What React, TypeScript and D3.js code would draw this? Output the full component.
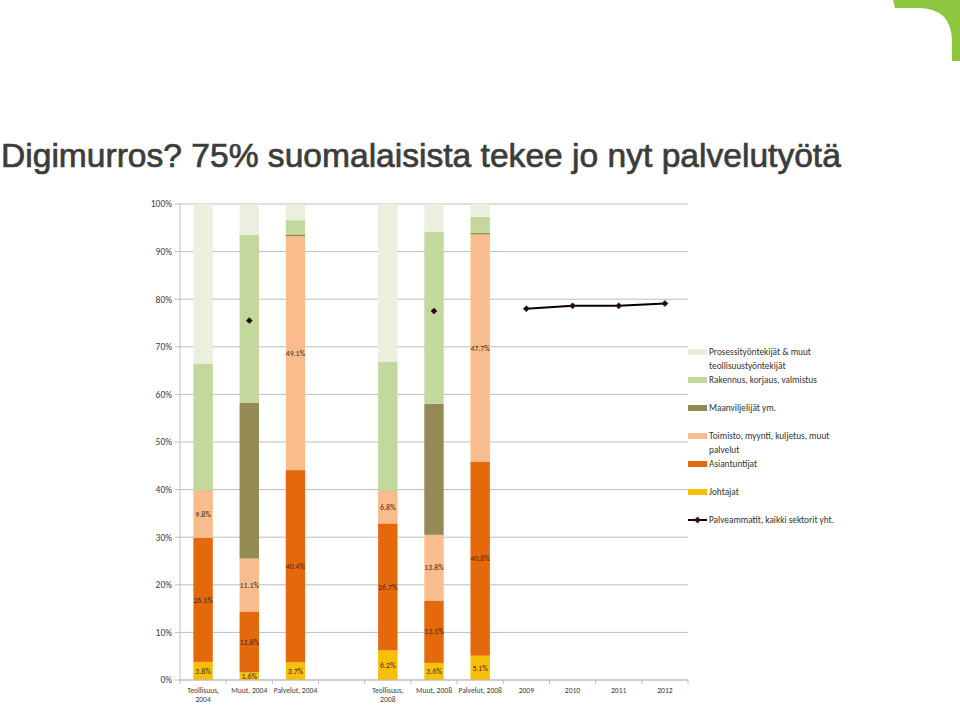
import React from 'react';
import * as d3 from 'd3';

const categories = ["Teollisuus, 2004", "Muut, 2004", "Palvelut, 2004", "", "Teollisuus, 2008", "Muut,  2008", "Palvelut, 2008", "2009", "2010", "2011", "2012"];
const categoryLabelLines = [["Teollisuus,", "2004"], ["Muut, 2004"], ["Palvelut, 2004"], [], ["Teollisuus,", "2008"], ["Muut,  2008"], ["Palvelut, 2008"], ["2009"], ["2010"], ["2011"], ["2012"]];

const johtajat = [3.8, 1.6, 3.7, 0, 6.2, 3.6, 5.1, 0, 0, 0, 0];
const asiantuntijat = [26.1, 12.8, 40.4, 0, 26.7, 13.1, 40.8, 0, 0, 0, 0];
const toimisto = [9.8, 11.1, 49.1, 0, 6.8, 13.8, 47.7, 0, 0, 0, 0];
const maanviljelijat = [0.1, 32.7, 0.4, 0, 0.1, 27.5, 0.3, 0, 0, 0, 0];
const rakennus = [26.7, 35.3, 3.0, 0, 27.1, 36.2, 3.4, 0, 0, 0, 0];
const prosessi = [33.5, 6.5, 3.4, 0, 33.1, 5.8, 2.7, 0, 0, 0, 0];
const palveammatit: (number | null)[] = [null, 75.5, null, null, null, 77.5, null, 78.0, 78.6, 78.6, 79.1];

const yTicks = [0, 10, 20, 30, 40, 50, 60, 70, 80, 90, 100];

const seriesKeys = ["johtajat", "asiantuntijat", "toimisto", "maanviljelijat", "rakennus", "prosessi"];
const seriesColors: Record<string, string> = {
  johtajat: "#f8bf0a",
  asiantuntijat: "#e3690c",
  toimisto: "#f9bc8c",
  maanviljelijat: "#948a54",
  rakennus: "#c4d79d",
  prosessi: "#ebf0de",
};
const labelledKeys = ["johtajat", "asiantuntijat", "toimisto"];

const legendItems = [
  { key: "prosessi", lines: ["Prosessityöntekijät & muut", "teollisuustyöntekijät"] },
  { key: "rakennus", lines: ["Rakennus, korjaus, valmistus"] },
  { key: "maanviljelijat", lines: ["Maanviljelijät ym."] },
  { key: "toimisto", lines: ["Toimisto, myynti, kuljetus, muut", "palvelut"] },
  { key: "asiantuntijat", lines: ["Asiantuntijat"] },
  { key: "johtajat", lines: ["Johtajat"] },
  { key: "line", lines: ["Palveammatit, kaikki sektorit yht."] },
];

const titleText = "Digimurros? 75% suomalaisista tekee jo nyt palvelutyötä";

const FONT = "Carlito, Lato, 'DejaVu Sans', sans-serif";

export default function App() {
  const W = 960, H = 705;
  const left = 180, right = 688, top = 204, bottom = 680;

  const keysIdx = categories.map((_, i) => String(i));
  const x = d3.scaleBand<string>().domain(keysIdx).range([left, right]).paddingInner(0.58).paddingOuter(0.29);
  const step = x.step();
  const y = d3.scaleLinear().domain([0, 100]).range([bottom, top]);

  const rows = categories.map((_, i) => ({
    johtajat: johtajat[i], asiantuntijat: asiantuntijat[i], toimisto: toimisto[i],
    maanviljelijat: maanviljelijat[i], rakennus: rakennus[i], prosessi: prosessi[i],
  }));
  const stacked = d3.stack<any>().keys(seriesKeys)(rows);

  const cx = (i: number) => (x(String(i)) as number) + x.bandwidth() / 2;

  const lineGen = d3.line<number | null>()
    .defined(d => d != null)
    .x((_, i) => cx(i))
    .y(d => y(d as number));

  const marker = d3.symbol().type(d3.symbolSquare).size(18)() as string;

  const boundaries = d3.range(categories.length + 1).map(i => left + i * step);

  return (
    <svg width={W} height={H} style={{ position: 'absolute', left: 0, top: 0, display: 'block', background: '#fff' }}>
      <path d="M893,0 L960,0 L960,61 L952,61 L952,42 Q952,8 918,8 L895,8 Z" fill="#8dc63f" />
      <text x={1} y={167} fontFamily="'Liberation Sans', Arial, sans-serif" fontSize={33.6} fill="#3c3c3c" stroke="#3c3c3c" strokeWidth={0.7}>{titleText}</text>

      {/* gridlines */}
      {yTicks.map(t => (
        <line key={t} x1={175} x2={right} y1={y(t)} y2={y(t)} stroke="#bdbdbd" strokeWidth={1} />
      ))}
      <line x1={left} x2={left} y1={top} y2={bottom} stroke="#bdbdbd" />
      {boundaries.map((b, i) => (
        <line key={i} x1={b} x2={b} y1={bottom} y2={bottom + 4} stroke="#bdbdbd" />
      ))}
      {yTicks.map(t => (
        <text key={t} x={172} y={y(t)} dy="0.35em" textAnchor="end" fontFamily={FONT} fontSize={9.5} fill="#404040">{t}%</text>
      ))}

      {/* bars */}
      {stacked.map(s => (
        <g key={s.key} fill={seriesColors[s.key]}>
          {s.map((d, i) => (d[1] - d[0] > 0 ? (
            <rect key={i} x={x(String(i))} width={x.bandwidth()} y={y(d[1])} height={y(d[0]) - y(d[1])} />
          ) : null))}
        </g>
      ))}
      {stacked.filter(s => labelledKeys.includes(s.key)).map(s => (
        <g key={'l' + s.key}>
          {s.map((d, i) => (d[1] - d[0] > 0 ? (
            <text key={i} x={cx(i)} y={y((d[0] + d[1]) / 2)} dy="0.35em" textAnchor="middle" fontFamily={FONT} fontSize={7.8} fill="#4a2812">
              {(d[1] - d[0]).toFixed(1)}%
            </text>
          ) : null))}
        </g>
      ))}

      {/* line */}
      <path d={lineGen(palveammatit) || ''} fill="none" stroke="#000" strokeWidth={2} />
      {palveammatit.map((v, i) => v == null ? null : (
        <path key={i} d={marker} transform={`translate(${cx(i)},${y(v)}) rotate(45)`} fill="#111" stroke="#6b1a2a" strokeWidth={0.8} />
      ))}

      <line x1={left} x2={right} y1={bottom} y2={bottom} stroke="#bdbdbd" />

      {/* x labels */}
      {categoryLabelLines.map((lines, i) => (
        <text key={i} x={cx(i)} y={690} textAnchor="middle" fontFamily={FONT} fontSize={7.6} fill="#404040">
          {lines.map((ln, j) => (
            <tspan key={j} x={cx(i)} dy={j === 0 ? '0.35em' : '1.25em'}>{ln}</tspan>
          ))}
        </text>
      ))}

      {/* legend */}
      {legendItems.map((it, i) => {
        const ly = 352 + i * 28;
        return (
          <g key={it.key}>
            {it.key === 'line' ? (
              <g>
                <line x1={688} x2={707} y1={ly} y2={ly} stroke="#000" strokeWidth={2} />
                <path d={marker} transform={`translate(697.5,${ly}) rotate(45)`} fill="#111" stroke="#6b1a2a" strokeWidth={0.8} />
              </g>
            ) : (
              <rect x={688} y={ly - 3} width={19} height={6} fill={seriesColors[it.key]} />
            )}
            <text x={709} y={ly} fontFamily={FONT} fontSize={9.3} fill="#333">
              {it.lines.map((ln, j) => (
                <tspan key={j} x={709} dy={j === 0 ? '0.35em' : '1.45em'}>{ln}</tspan>
              ))}
            </text>
          </g>
        );
      })}
    </svg>
  );
}
